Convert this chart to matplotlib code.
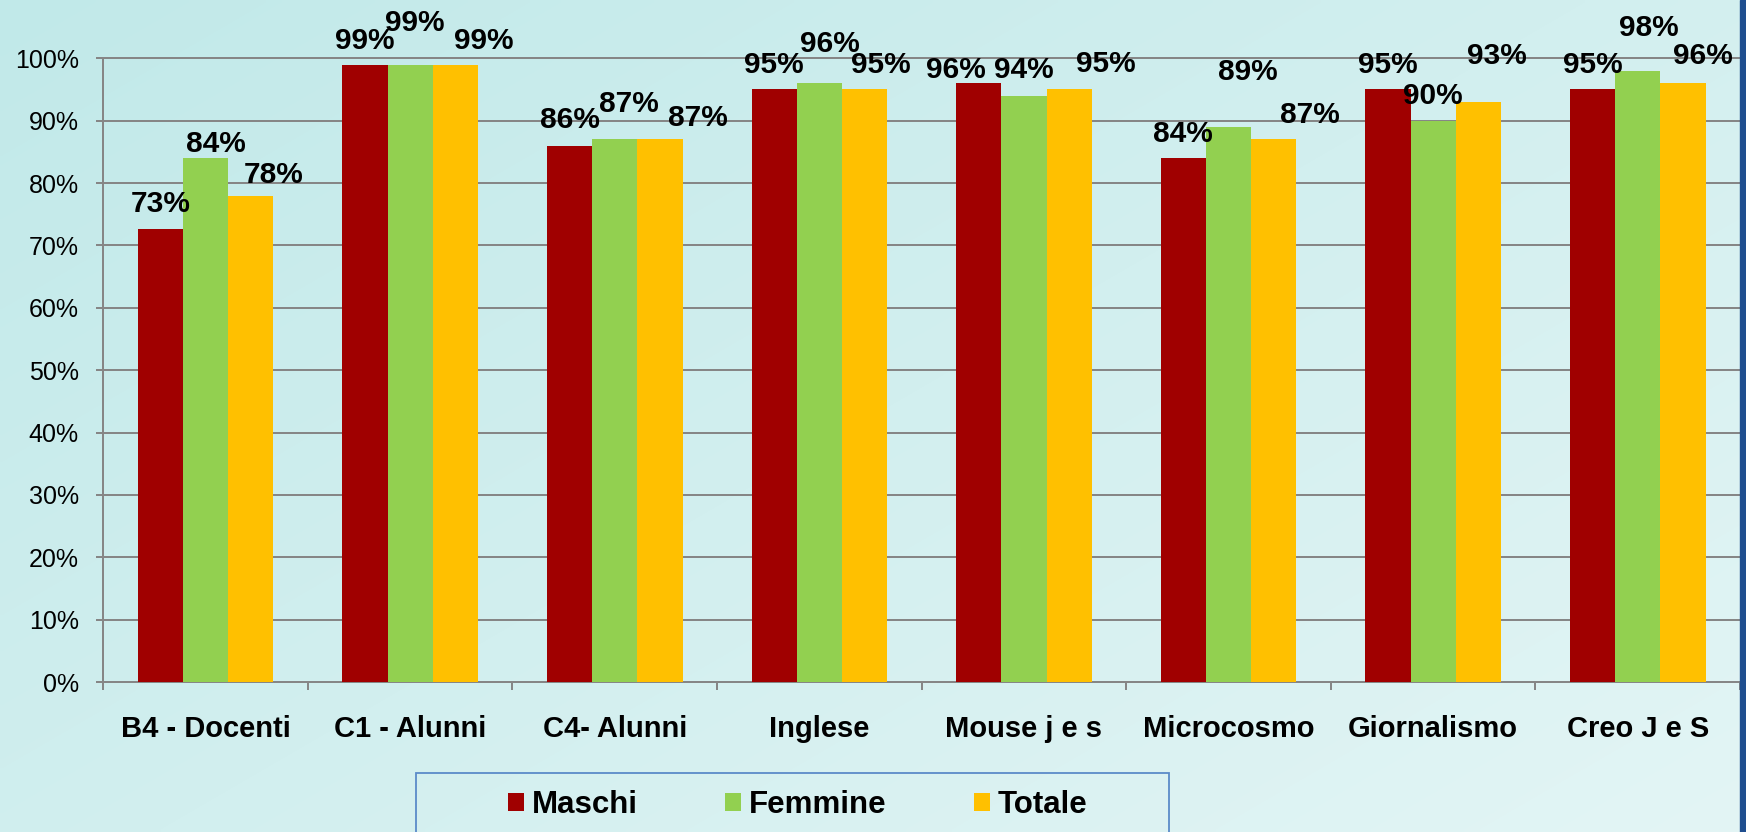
import matplotlib
matplotlib.use("Agg")
import matplotlib.pyplot as plt
import numpy as np
from matplotlib.patches import Rectangle, Patch
from matplotlib.ticker import PercentFormatter

plt.rcParams['font.family'] = ['Liberation Sans', 'DejaVu Sans']

# ---------------- data ----------------
categories = ["B4 - Docenti", "C1 - Alunni", "C4- Alunni", "Inglese",
              "Mouse j e s", "Microcosmo", "Giornalismo", "Creo J e S"]
series_names = ["Maschi", "Femmine", "Totale"]
maschi = [72.7, 99, 86, 95, 96, 84, 95, 95]
femmine = [84, 99, 87, 96, 94, 89, 90, 98]
totale = [78, 99, 87, 95, 95, 87, 93, 96]
y_ticks = [0, 10, 20, 30, 40, 50, 60, 70, 80, 90, 100]

# ---------------- layout / style ----------------
colors = ["#A00000", "#92D050", "#FFC000"]
# hand-placed label offsets (pixels): dx, dy of label centre from bar top
lab_dx = [[0, 0, 0, 0, -23, 0, 0, 0],
          [10, 4.6, 14, 11, 0, 19, 0, 11.5],
          [22.6, 28, 37.5, 16.5, 37, 36.5, 19, 20]]
lab_dy = [[27.7, 26.7, 28, 27.5, 16, 26.7, 27.5, 27.5],
          [16.7, 44.2, 38, 42.5, 28.7, 58, 27, 45.7],
          [23.5, 26.7, 24.5, 27.5, 28, 27.5, 49, 29.6]]

W, H = 1746, 832
fig = plt.figure(figsize=(W / 100, H / 100), dpi=100)

# background gradient
bg = fig.add_axes([0, 0, 1, 1], zorder=-10)
ny, nx = 170, 350
yy, xx = np.mgrid[0:1:ny * 1j, 0:1:nx * 1j]
t = np.clip(0.55 * xx + 0.45 * yy, 0, 1)[..., None]
c0 = np.array([0xC1, 0xE9, 0xE9]) / 255
c1 = np.array([0xE3, 0xF5, 0xF5]) / 255
img = c0 * (1 - t) + c1 * t
bg.imshow(img, aspect='auto', extent=[0, 1, 0, 1], interpolation='bilinear')
bg.axis('off')

ax = fig.add_axes([103.3 / W, 150 / H, (1740 - 103.3) / W, (682 - 58.3) / H])
ax.set_facecolor('none')

x = np.arange(len(categories))
bw = 0.221
all_series = [maschi, femmine, totale]
for k, (vals, col, name) in enumerate(zip(all_series, colors, series_names)):
    xs = x + (k - 1) * bw
    ax.bar(xs, np.array(vals) / 100, bw, color=col, zorder=3, linewidth=0, label=name)
    for i, v in enumerate(vals):
        ax.annotate(f"{round(v)}%", xy=(xs[i], v / 100),
                    xytext=(lab_dx[k][i], lab_dy[k][i] - 10.8),
                    textcoords='offset pixels', ha='center', va='baseline',
                    fontsize=21.5, fontweight='bold', color='black',
                    annotation_clip=False, zorder=6)

ax.set_xlim(-0.5, len(categories) - 0.5)
ax.set_ylim(0, 1)
ax.set_yticks(np.array(y_ticks) / 100)
ax.yaxis.set_major_formatter(PercentFormatter(1, decimals=0))
ax.grid(axis='y', color='#868686', linewidth=1.44, zorder=0)
ax.set_axisbelow(True)
for gl in ax.get_ygridlines():
    gl.set_clip_on(False)
for s in ['top', 'right']:
    ax.spines[s].set_visible(False)
for s in ['left', 'bottom']:
    ax.spines[s].set_color('#868686')
    ax.spines[s].set_linewidth(1.44)

ax.tick_params(axis='y', length=5, width=1.44, color='#868686', pad=12.6,
               labelsize=18, labelcolor='black')
ax.set_xticks(x)
ax.set_xticklabels(categories, fontsize=21, fontweight='bold')
ax.tick_params(axis='x', which='major', length=0, pad=24)
ax.set_xticks(np.arange(-0.5, len(categories), 1), minor=True)
ax.tick_params(axis='x', which='minor', length=5.8, width=1.44, color='#868686')

# legend
handles = [Patch(facecolor=c, edgecolor='none') for c in colors]
fig.legend(handles, series_names, loc='center',
           bbox_to_anchor=(798 / W, (832 - 805) / H), ncol=3, frameon=False,
           prop={'weight': 'bold', 'size': 22.5},
           handlelength=0.51, handleheight=0.54, handletextpad=0.25,
           columnspacing=2.8, borderpad=0, borderaxespad=0)
fig.add_artist(Rectangle((416 / W, -0.1), (1169 - 416) / W, (832 - 773) / H + 0.1,
                         transform=fig.transFigure, fill=False,
                         edgecolor='#5B8BC9', linewidth=1.3))

# right slide border
fig.add_artist(Rectangle((1740 / W, 0), 6 / W, 1, transform=fig.transFigure,
                         color='#1F4E8F', zorder=10))

fig.savefig('out.png', dpi=100)
